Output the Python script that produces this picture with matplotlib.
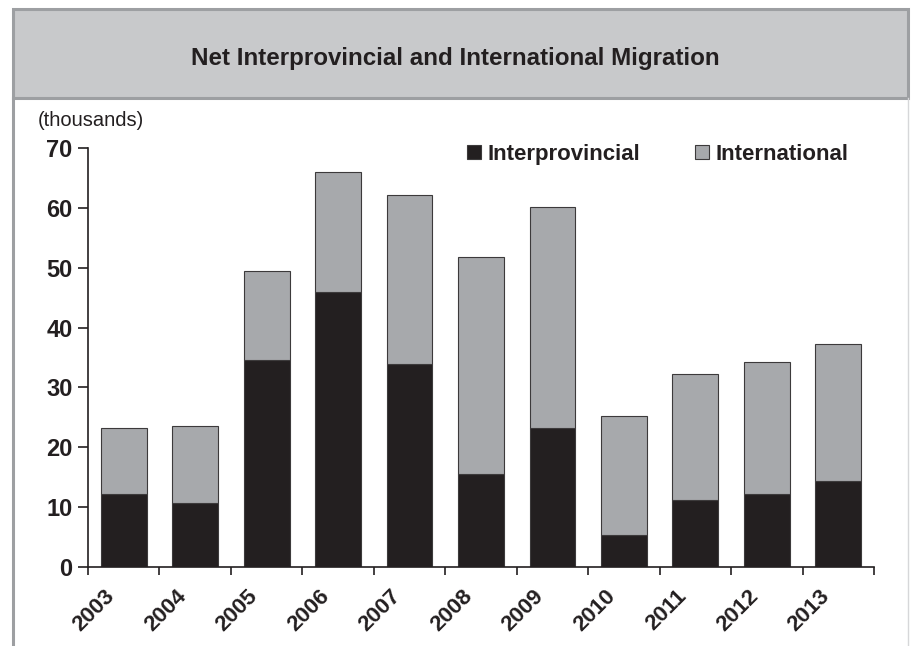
import matplotlib
matplotlib.use("Agg")
import matplotlib.pyplot as plt
from matplotlib.patches import Rectangle
from matplotlib.lines import Line2D
import numpy as np

plt.rcParams['font.family'] = ['Liberation Sans', 'DejaVu Sans']

years = ['2003', '2004', '2005', '2006', '2007', '2008', '2009', '2010', '2011', '2012', '2013']
interprovincial = [12.1, 10.7, 34.6, 45.9, 33.9, 15.5, 23.2, 5.3, 11.2, 12.1, 14.3]
totals = [23.2, 23.6, 49.5, 66.1, 62.2, 51.8, 60.1, 25.2, 32.2, 34.3, 37.3]
international = [t - i for t, i in zip(totals, interprovincial)]
yticks = [0, 10, 20, 30, 40, 50, 60, 70]

W, H = 911, 646
fig = plt.figure(figsize=(W / 100, H / 100), dpi=100)

# Title band and frame
fig.patches.append(Rectangle((13 / W, (H - 98) / H), (908 - 13) / W, (98 - 9) / H,
                             transform=fig.transFigure, facecolor='#c8c9cb',
                             edgecolor='#9d9fa2', linewidth=2.2, zorder=0))
fig.lines.append(Line2D([13 / W, 13 / W], [0, (H - 98) / H], transform=fig.transFigure,
                        color='#9d9fa2', linewidth=2.2))
fig.lines.append(Line2D([908 / W, 908 / W], [0, (H - 98) / H], transform=fig.transFigure,
                        color='#d6d7d9', linewidth=1.0))
fig.text(455 / W, (H - 58) / H, 'Net Interprovincial and International Migration',
         ha='center', va='center', fontsize=17.4, fontweight='bold', color='#231f20')
fig.text(38 / W, (H - 121) / H, '(thousands)', ha='left', va='center', fontsize=14.5, color='#231f20')

ax = fig.add_axes([88 / W, (H - 566.5) / H, (874 - 88) / W, (566.5 - 148.3) / H])
x = np.arange(len(years))
bw = 0.64
ax.bar(x, interprovincial, width=bw, color='#231f20', edgecolor='#3c3a3b', linewidth=0.8,
       label='Interprovincial', zorder=2)
ax.bar(x, international, width=bw, bottom=interprovincial, color='#a7a9ac', edgecolor='#3c3a3b',
       linewidth=0.8, label='International', zorder=2)

ax.set_xlim(-0.5, len(years) - 0.5)
ax.set_ylim(0, 70)
ax.set_yticks(yticks)
ax.set_yticklabels([str(v) for v in yticks], fontsize=17, fontweight='bold', color='#231f20')
ax.set_xticks(np.arange(-0.5, len(years), 1.0))
ax.set_xticklabels([])
# label anchors sit a little left of the bar centres, as in the original
ax.set_xticks(x - 0.27, minor=True)
ax.set_xticklabels(years, minor=True, rotation=45, ha='right', rotation_mode='anchor',
                   fontsize=16, fontweight='bold', color='#231f20')
ax.tick_params(axis='x', which='minor', length=0, pad=14)
ax.tick_params(axis='x', which='major', length=6, width=1.2, color='#231f20', direction='out')
ax.tick_params(axis='y', length=7, width=1.2, color='#231f20', direction='out', pad=4)
for s in ['top', 'right']:
    ax.spines[s].set_visible(False)
for s in ['left', 'bottom']:
    ax.spines[s].set_color('#231f20')
    ax.spines[s].set_linewidth(1.2)

leg = ax.legend(loc='upper right', bbox_to_anchor=(0.993, 1.058), ncol=2, frameon=False,
                prop={'weight': 'bold', 'size': 16}, handlelength=0.6, handleheight=0.6,
                handletextpad=0.3, columnspacing=2.5)
for t in leg.get_texts():
    t.set_color('#231f20')

fig.savefig('out.png', dpi=100)
